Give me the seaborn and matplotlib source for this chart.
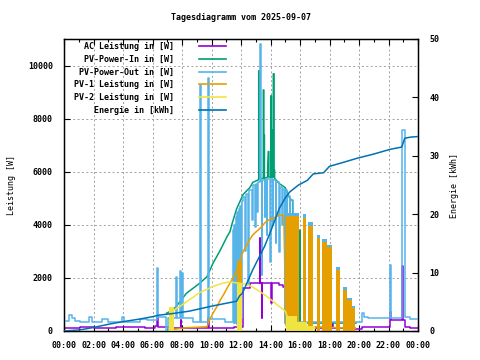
import matplotlib
matplotlib.use("Agg")
import matplotlib.pyplot as plt
from matplotlib.lines import Line2D
from matplotlib.ticker import MultipleLocator
import numpy as np
import seaborn as sns

# ---- data (time in hours, power in W, energy in kWh) ----
# step series: value holds until the next sample
ac_power = [(0, 100), (0.4, 130), (1.1, 140), (2.0, 120), (3.5, 140), (5.5, 130), (6.2, 180),
            (6.28, 540), (6.35, 150), (7.3, 120), (7.9, 415), (7.95, 130), (9.75, 490), (9.8, 110),
            (11.5, 160), (12.15, 1620), (12.6, 1800), (13.27, 3500), (13.31, 1820), (13.4, 490),
            (13.44, 1820), (14.05, 1050), (14.09, 1820), (14.6, 1730), (14.85, 1670), (15.5, 1550),
            (15.85, 100), (17.7, 415), (17.74, 120), (18.2, 300), (18.24, 120), (19.0, 350),
            (19.04, 110), (19.73, 70), (20.2, 160), (22.08, 730), (22.2, 415), (22.92, 2460),
            (22.97, 415), (23.12, 160), (23.46, 125), (24, 125)]

pv_out = [(0, 380), (0.37, 590), (0.55, 500), (0.75, 390), (1.08, 330), (1.7, 520), (1.92, 330),
          (2.58, 440), (2.98, 350), (3.93, 520), (4.07, 350), (5.15, 460), (5.63, 415), (6.28, 2370),
          (6.35, 520), (6.9, 0), (7.02, 480), (7.58, 2050), (7.63, 500), (7.85, 2270), (7.9, 500),
          (8.02, 2200), (8.07, 480), (8.75, 350), (9.25, 9270), (9.3, 350), (9.76, 9520), (9.81, 450),
          (10.9, 350), (11.45, 3800), (11.5, 300), (11.55, 4000), (11.6, 300), (11.65, 4300),
          (11.7, 250), (11.75, 4500), (11.8, 400), (11.85, 4600), (11.9, 300), (11.95, 4700),
          (12.0, 500), (12.05, 4900), (12.15, 5060), (12.3, 3000), (12.34, 5150), (12.5, 1730),
          (12.54, 5300), (12.75, 4200), (12.79, 5500), (12.95, 3900), (12.99, 5550), (13.1, 4500),
          (13.14, 5600), (13.29, 10820), (13.33, 5660), (13.4, 2110), (13.44, 5680), (13.6, 4300),
          (13.64, 5700), (13.75, 3600), (13.79, 5710), (13.97, 2610), (14.01, 5710), (14.15, 4000),
          (14.19, 5680), (14.35, 3300), (14.39, 5600), (14.6, 2990), (14.64, 5440), (14.8, 4000),
          (14.84, 5350), (14.95, 300), (14.99, 5300), (15.1, 3500), (15.14, 5100), (15.3, 2500),
          (15.34, 4940), (15.5, 4820), (15.55, 350), (19.75, 350), (20.2, 670), (20.34, 540),
          (20.61, 480), (22.08, 2490), (22.2, 480), (22.92, 7580), (23.12, 540), (23.46, 450),
          (24, 450)]

# polyline series: drawn point to point
pv_in = [(6.95, 670), (7.4, 790), (7.85, 1100), (8.3, 1420), (8.75, 1610), (9.2, 1800), (9.7, 2050),
         (10.1, 2550), (10.6, 3050), (11.05, 3550), (11.25, 3740), (11.4, 4050), (11.7, 4600),
         (12.15, 5150), (12.6, 5400), (12.8, 5600), (13.2, 5700), (13.2, 9800), (13.24, 9800),
         (13.24, 5750), (13.51, 5750), (13.51, 9080), (13.55, 9080), (13.55, 7390), (13.59, 7390),
         (13.59, 5750), (13.81, 5800), (13.81, 6190), (13.85, 6760), (13.89, 6760), (13.89, 5800),
         (14.02, 5800), (14.02, 8860), (14.06, 8860), (14.06, 5800), (14.1, 5800), (14.1, 7570),
         (14.14, 7570), (14.14, 5800), (14.19, 5800), (14.19, 9690), (14.24, 9690), (14.24, 6070),
         (14.28, 6070), (14.28, 5750), (14.6, 5550), (15.0, 5400), (15.3, 5000), (15.5, 4900),
         (15.55, 300), (15.97, 300), (15.97, 3800), (16.0, 3800), (16.0, 300), (19.8, 300)]

pv1 = [(7.15, 40), (8.3, 125), (9.7, 160), (9.85, 400), (10.1, 670), (10.35, 900), (10.6, 1170),
       (10.85, 1400), (11.05, 1610), (11.25, 1800), (11.46, 2000), (11.7, 2240), (12.05, 2870),
       (12.2, 3050), (12.4, 3240), (12.6, 3450), (12.8, 3620), (13.05, 3750), (13.3, 3870),
       (13.5, 4000), (13.7, 4120), (13.95, 4200), (14.2, 4250), (14.6, 4370), (14.9, 4350),
       (15.05, 200), (19.75, 100)]

pv2 = [(7.15, 160), (7.45, 790), (7.85, 920), (8.3, 1100), (8.65, 1230), (9.2, 1450), (9.7, 1570),
       (10.1, 1680), (10.6, 1770), (11.05, 1840), (11.5, 1830), (11.9, 1800), (12.4, 1760),
       (12.8, 1650), (13.3, 1480), (13.76, 1300), (14.2, 1100), (14.6, 920), (15.0, 750),
       (15.3, 300), (17.0, 100)]

energy = [(0, 0), (1.1, 0.2), (2.0, 0.6), (3.1, 1.2), (4.0, 1.6), (5.15, 2.05), (6.0, 2.45),
          (6.4, 2.7), (7.4, 3.0), (8.5, 3.4), (10.1, 4.3), (11.7, 5.1), (11.9, 6.0), (12.1, 6.5),
          (12.4, 8.2), (12.8, 10.5), (13.0, 11.5), (13.3, 13), (13.6, 14.5), (14.0, 17), (14.3, 19),
          (14.6, 21), (15.0, 22.8), (15.3, 23.8), (15.9, 25), (16.5, 25.8), (16.9, 26.9),
          (17.6, 27.1), (18.0, 28.2), (18.7, 28.7), (19.9, 29.6), (21.0, 30.3), (22.1, 31.1),
          (22.9, 31.5), (23.1, 33), (23.5, 33.2), (24, 33.3)]

# rapid on/off oscillation periods (start h, end h, peak W) - look like filled blocks
pv_out_blocks = [(15.05, 15.95, 4450), (16.18, 16.4, 4400), (16.56, 16.9, 4100), (17.13, 17.36, 3600),
                 (17.47, 17.8, 3450), (17.8, 18.15, 3250), (18.44, 18.71, 2400), (18.94, 19.2, 1650),
                 (19.2, 19.5, 1250), (19.5, 19.73, 950)]
pv1_blocks = [(11.7, 12.05, 2650), (15.05, 15.95, 4330), (16.18, 16.4, 4250), (16.56, 16.9, 3950),
              (17.13, 17.36, 3500), (17.47, 17.8, 3370), (17.8, 18.15, 3180), (18.44, 18.71, 2300),
              (18.94, 19.2, 1550), (19.2, 19.5, 1170), (19.5, 19.73, 860)]
pv2_blocks = [(7.15, 7.45, 900), (11.7, 12.1, 1800), (15.05, 15.8, 550), (15.8, 16.5, 350),
              (16.5, 17.0, 200)]

labels = ["AC Leistung in [W]", "PV-Power-In in [W]", "PV-Power-Out in [W]",
          "PV-1 Leistung in [W]", "PV-2 Leistung in [W]", "Energie in [kWh]"]
colors = ["#9400D3", "#009E73", "#56B4E9", "#E69F00", "#F0E442", "#0072B2"]
hour_labels = ["00:00", "02:00", "04:00", "06:00", "08:00", "10:00", "12:00",
               "14:00", "16:00", "18:00", "20:00", "22:00", "00:00"]

plt.rcParams["font.family"] = ["DejaVu Sans Mono"]
plt.rcParams["font.size"] = 6
plt.rcParams["font.weight"] = "bold"

fig = plt.figure(figsize=(4.8, 3.6), dpi=100)
ax = fig.add_axes([64 / 480, 29 / 360, 354 / 480, 292 / 360])
LW = 1.1


def draw_line(series, color, z, steps=False, target=None):
    t, v = zip(*series)
    sns.lineplot(x=list(t), y=list(v), ax=target or ax, color=color, lw=LW,
                 drawstyle="steps-post" if steps else "default",
                 estimator=None, sort=False, zorder=z)


def blocks(series, color, z):
    t0, t1, top = map(np.array, zip(*series))
    ax.bar(t0, top, width=t1 - t0, align="edge", color=color, linewidth=0, zorder=z)


draw_line(ac_power, colors[0], 2, steps=True)
draw_line(pv_in, colors[1], 3)
blocks(pv_out_blocks, colors[2], 4)
draw_line(pv_out, colors[2], 4, steps=True)
blocks(pv1_blocks, colors[3], 5)
draw_line(pv1, colors[3], 5)
blocks(pv2_blocks, colors[4], 6)
draw_line(pv2, colors[4], 6)

ax.set_xlim(0, 24)
ax.set_ylim(0, 11000)
ax.set_xticks(np.arange(0, 25, 2))
ax.set_xticklabels(hour_labels)
ax.xaxis.set_minor_locator(MultipleLocator(1))
ax.set_yticks(np.arange(0, 10001, 2000))
ax.grid(True, color="#a0a0a0", linestyle=(0, (2, 2.5)), linewidth=0.7)
ax.set_axisbelow(True)
ax.tick_params(direction="in", length=4, width=0.8, top=True, right=True, pad=8)
ax.tick_params(which="minor", direction="in", length=2, width=0.8, top=True)
ax.tick_params(axis="x", pad=7)
ax.set_xlabel("")
ax.set_ylabel("Leistung [W]")
ax.yaxis.set_label_coords(-0.135, 0.5)
for s in ax.spines.values():
    s.set_linewidth(1.0)

ax2 = ax.twinx()
draw_line(energy, colors[5], 7, target=ax2)
ax2.set_ylim(0, 50)
ax2.set_yticks(np.arange(0, 51, 10))
ax2.tick_params(direction="in", length=4, width=0.8, pad=8)
ax2.set_ylabel("Energie [kWh]")
ax2.yaxis.set_label_coords(1.09, 0.5)

handles = [Line2D([], [], color=c, lw=1.2) for c in colors]
ax2.legend(handles, labels, loc="upper right", bbox_to_anchor=(226 / 480, 1 - 42 / 360),
           bbox_transform=fig.transFigure, frameon=False, markerfirst=False,
           handlelength=3.3, handletextpad=2.9, labelspacing=0.45, borderpad=0, borderaxespad=0)

fig.text(241 / 480, 1 - 18 / 360, "Tagesdiagramm vom 2025-09-07", ha="center", va="center")

fig.savefig("out.png", dpi=100)
